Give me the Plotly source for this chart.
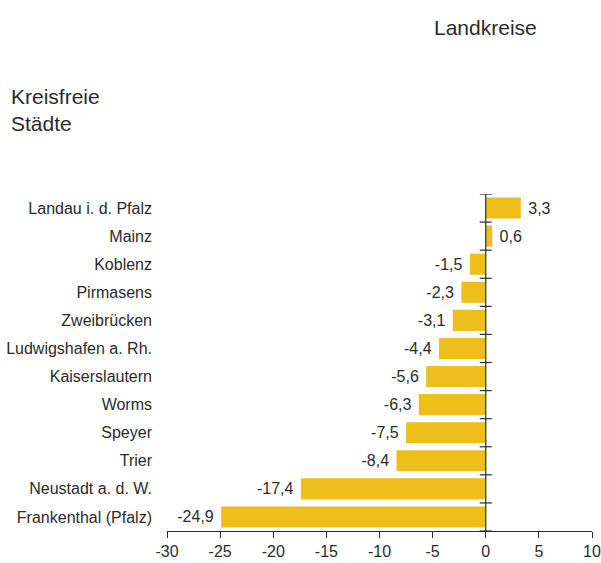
import plotly.graph_objects as go

categories = ["Landau i. d. Pfalz", "Mainz", "Koblenz", "Pirmasens", "Zweibrücken",
              "Ludwigshafen a. Rh.", "Kaiserslautern", "Worms", "Speyer", "Trier",
              "Neustadt a. d. W.", "Frankenthal (Pfalz)"]
values = [3.3, 0.6, -1.5, -2.3, -3.1, -4.4, -5.6, -6.3, -7.5, -8.4, -17.4, -24.9]
x_tickvals = [-30, -25, -20, -15, -10, -5, 0, 5, 10]
x_ticktext = [str(v) for v in x_tickvals]

labels = [(" " + f"{v:.1f}" if v >= 0 else f"{v:.1f}" + " ").replace(".", ",") for v in values]

BAR = "#F0BE1B"
TXT = "#2b2b2b"
FONT = "Liberation Sans, Arial, Helvetica, sans-serif"

fig = go.Figure(go.Bar(
    x=values, y=categories, orientation="h",
    marker=dict(color=BAR, line=dict(width=0)),
    text=labels, textposition="outside", cliponaxis=False,
    textfont=dict(size=16, color=TXT, family=FONT),
    hoverinfo="skip",
))

n = len(categories)
shapes = [dict(type="line", xref="x", yref="y", x0=0, x1=0, y0=-0.5, y1=n - 0.5,
               line=dict(color=TXT, width=1.2))]
for i in range(n + 1):
    shapes.append(dict(type="line", xref="x", yref="y", xsizemode="pixel", xanchor=0,
                       x0=-6, x1=6, y0=i - 0.5, y1=i - 0.5,
                       line=dict(color=TXT, width=1.2)))

fig.update_layout(
    width=601, height=563,
    margin=dict(l=167, r=9, t=194, b=32, autoexpand=False),
    paper_bgcolor="white", plot_bgcolor="white",
    showlegend=False, bargap=0.25,
    font=dict(family=FONT, size=16, color=TXT),
    shapes=shapes,
    xaxis=dict(range=[-30, 10], tickvals=x_tickvals, ticktext=x_ticktext, automargin=False,
               showgrid=False, zeroline=False, showline=True, linecolor=TXT, linewidth=1.2,
               ticks="outside", ticklen=6, tickcolor=TXT, tickwidth=1.2,
               tickfont=dict(size=16, color=TXT)),
    yaxis=dict(categoryorder="array", categoryarray=categories, autorange=False, automargin=False,
               range=[n - 0.5, -0.5], showgrid=False, zeroline=False, showline=False,
               ticks="", ticklabelstandoff=14, tickfont=dict(size=16, color=TXT)),
    annotations=[
        dict(text="Landkreise", xref="paper", yref="paper", x=0.6235, y=1.4926,
             xanchor="left", yanchor="middle", showarrow=False,
             font=dict(size=21, color=TXT)),
        dict(text="Kreisfreie<br>Städte", xref="paper", yref="paper", x=-0.3718, y=1.2507,
             xanchor="left", yanchor="middle", align="left", showarrow=False,
             font=dict(size=21, color=TXT)),
    ],
)

fig.write_html("out.html", config={"displayModeBar": False},
               post_script="document.body.style.margin='0';document.body.style.overflow='hidden';")
